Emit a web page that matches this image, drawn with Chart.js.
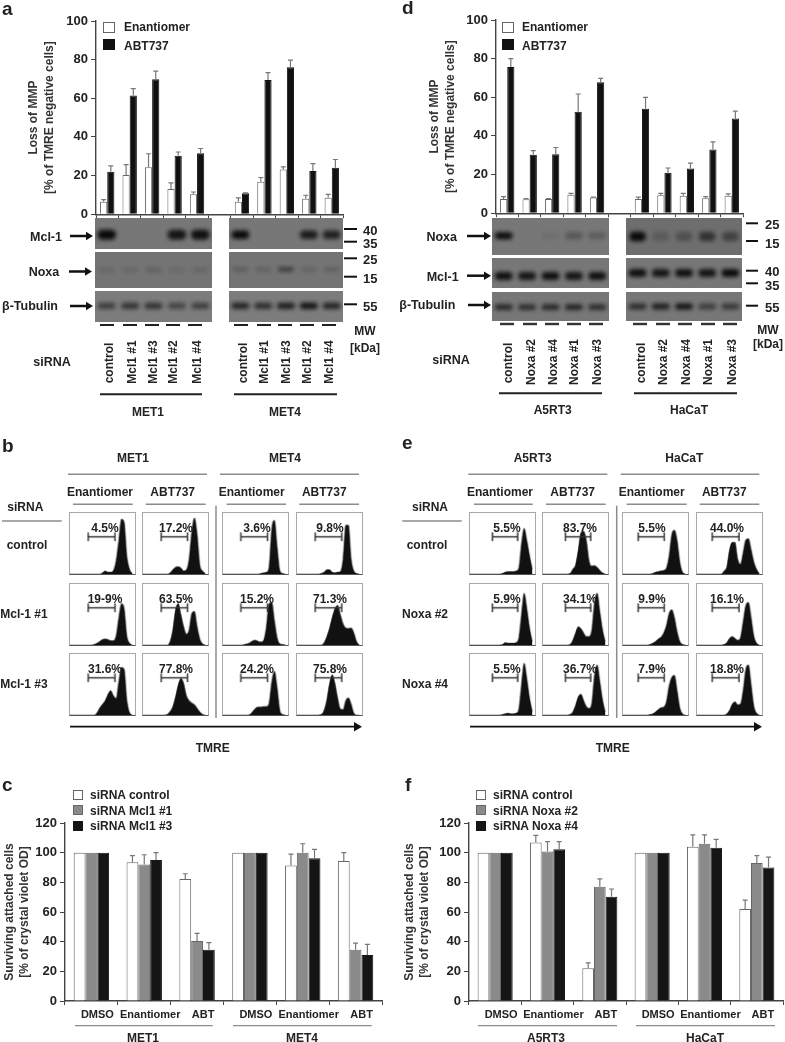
<!DOCTYPE html>
<html>
<head>
<meta charset="utf-8">
<title>Loss of MMP after Mcl-1 and Noxa knockdown</title>
<script src="https://cdn.jsdelivr.net/npm/chart.js@4"></script>
<style>
  html, body { margin: 0; background: #fff; }
  #fig { position: relative; width: 785px; height: 1042px; overflow: hidden; font-family: "Liberation Sans", Arial, sans-serif; color: #222; filter: blur(0.35px); }
  #fig canvas { position: absolute; }
  .t { position: absolute; font-weight: bold; font-size: 12px; white-space: nowrap; transform: translate(-50%, -50%); }
  .tl { position: absolute; font-weight: bold; font-size: 12px; white-space: nowrap; transform: translateY(-50%); }
  .sw { position: absolute; box-sizing: border-box; }
  svg { position: absolute; left: 0; top: 0; }
</style>
</head>
<body>
<div id="fig"></div>
<script>
// panel a - loss of MMP, Mcl1 knockdown
var laneA = ['control', 'Mcl1 #1', 'Mcl1 #3', 'Mcl1 #2', 'Mcl1 #4'];
var mmpLabelsA = laneA.concat(['']).concat(laneA);
var mmpEnantA = [6.5, 20.3, 24.3, 13, 10.3, null, 6.5, 16.8, 23.2, 8, 8.5];
var mmpEnantErrA = [1, 5.4, 7, 3.2, 1.2, null, 2, 2.2, 1.3, 1.8, 1.8];
var mmpAbtA = [22, 61.5, 69.8, 30.2, 31.5, null, 10.8, 69.5, 76, 22.3, 24];
var mmpAbtErrA = [3, 3.5, 4.3, 2, 2.5, null, 0.3, 3.8, 3.7, 3.9, 4.3];

// panel d - loss of MMP, Noxa knockdown
var laneD = ['control', 'Noxa #2', 'Noxa #4', 'Noxa #1', 'Noxa #3'];
var mmpLabelsD = laneD.concat(['']).concat(laneD);
var mmpEnantD = [7.3, 7.2, 7.3, 9.5, 8.1, null, 7.4, 9.3, 9, 7.8, 9];
var mmpEnantErrD = [1.3, 0.3, 0.3, 0.8, 0.2, null, 0.9, 1, 1.3, 0.8, 1];
var mmpAbtD = [75.7, 30.2, 30.5, 52.5, 67.8, null, 54, 21, 23.2, 33, 49];
var mmpAbtErrD = [4.3, 2.2, 3.5, 9.2, 2, null, 6, 2.4, 2.7, 3.9, 3.8];

// panels c and f - crystal violet survival
var survLabels = ['DMSO', 'Enantiomer', 'ABT', 'DMSO', 'Enantiomer', 'ABT'];
var survCtrlC = [100, 93.5, 82.3, 100, 91.3, 94.3];
var survCtrlErrC = [0, 4.5, 3.5, 0, 7.7, 5.7];
var survMcl1C = [100, 92, 40.5, 100, 100, 34.5];
var survMcl1ErrC = [0, 6.6, 5.1, 0, 6, 4.5];
var survMcl3C = [100, 95, 34.5, 100, 96.3, 31];
var survMcl3ErrC = [0, 5, 4.8, 0, 5.9, 7.2];
var survCtrlF = [100, 106.8, 22, 100, 104, 62];
var survCtrlErrF = [0, 4.9, 3.7, 0, 8, 6];
var survNoxa2F = [100, 100.8, 77, 100, 106, 93];
var survNoxa2ErrF = [0, 6.7, 5.3, 0, 6, 5];
var survNoxa4F = [100, 102.3, 70.3, 100, 103.3, 90];
var survNoxa4ErrF = [0, 5.2, 5.2, 0, 5.7, 7];

// panel b histograms, one row per siRNA, 24 bins across TMRE
var histMet1Enant = [
  [0,0,0,0,0,0,0,0,0,0,0,0,2,5,3,3,6,22,55,90,85,30,8,1],
  [0,0,0,0,0,0,0,0,0,1,3,6,9,10,9,7,7,15,45,68,60,15,3,0],
  [0,0,0,0,0,0,0,0,0,0,4,12,18,24,34,40,32,27,55,78,75,25,4,0]
];
var histMet1Abt = [
  [0,0,0,0,0,0,0,0,0,0,2,7,11,12,10,5,7,25,70,92,65,15,5,1],
  [0,0,0,0,0,0,0,0,0,0,6,25,58,68,50,30,18,25,52,55,30,10,2,0],
  [0,0,0,0,0,0,0,0,0,1,6,14,30,50,60,52,32,24,20,17,11,5,1,0]
];
var histMet4Enant = [
  [0,0,0,0,0,0,0,0,0,0,0,0,0,0,1,2,3,12,75,88,45,6,1,0],
  [0,0,0,0,0,0,0,0,1,2,4,7,8,6,5,8,30,68,70,40,12,2,1,0],
  [0,0,0,0,0,0,0,0,0,0,1,6,11,13,13,14,14,20,55,72,45,8,1,0]
];
var histMet4Abt = [
  [0,0,0,0,0,0,0,0,0,1,3,7,7,3,2,3,4,25,80,80,25,5,1,0],
  [0,0,0,0,0,0,0,0,0,0,4,14,28,46,60,65,50,35,28,27,28,20,6,0],
  [0,0,0,0,0,0,0,0,0,1,8,25,52,66,52,28,10,9,24,28,18,3,0,0]
];
// panel e histograms
var histA5Enant = [
  [0,0,0,0,0,0,0,0,0,0,0,0,1,3,4,4,4,5,10,50,75,55,30,8],
  [0,0,0,0,0,0,0,0,0,0,0,0,1,4,3,3,3,4,12,50,85,60,28,6],
  [0,0,0,0,0,0,0,0,0,0,0,0,1,2,3,2,2,3,10,50,85,60,28,6]
];
var histA5Abt = [
  [0,0,0,0,0,0,0,0,0,0,1,8,15,40,68,70,55,22,13,14,11,6,2,0],
  [0,0,0,0,0,0,0,0,0,0,1,8,20,30,27,20,14,14,25,70,85,55,25,6],
  [0,0,0,0,0,0,0,0,0,0,1,5,16,30,34,24,14,11,20,65,82,55,25,5]
];
var histHaCaTEnant = [
  [0,0,0,0,0,0,0,0,0,0,0,1,3,4,5,6,10,30,65,72,55,20,3,0],
  [0,0,0,0,0,0,0,0,0,0,1,3,6,10,13,20,32,52,58,45,22,6,1,0],
  [0,0,0,0,0,0,0,0,0,0,1,2,5,9,12,13,22,48,62,65,40,12,2,0]
];
var histHaCaTAbt = [
  [0,0,0,0,0,0,0,0,0,0,5,12,40,52,52,25,16,35,56,58,40,20,8,1],
  [0,0,0,0,0,0,0,0,0,0,1,4,11,14,11,8,12,38,65,70,45,15,3,0],
  [0,0,0,0,0,0,0,0,0,0,0,2,8,18,22,17,18,40,75,82,50,15,3,0]
];
var pctB = [
  ['4.5%', '17.2%', '3.6%', '9.8%'],
  ['19-9%', '63.5%', '15.2%', '71.3%'],
  ['31.6%', '77.8%', '24.2%', '75.8%']
];
var pctE = [
  ['5.5%', '83.7%', '5.5%', '44.0%'],
  ['5.9%', '34.1%', '9.9%', '16.1%'],
  ['5.5%', '36.7%', '7.9%', '18.8%']
];

// western blot band strengths per lane (0 - 1)
var mclBandMet1 = [1, 0, 0, 0.9, 0.95];
var mclBandMet4 = [1, 0, 0, 0.85, 0.8];
var noxaBandMet1 = [0.14, 0.14, 0.2, 0.12, 0.16];
var noxaBandMet4 = [0.25, 0.2, 0.6, 0.18, 0.22];
var tubBandMet1 = [0.55, 0.65, 0.65, 0.5, 0.55];
var tubBandMet4 = [0.8, 0.7, 0.85, 0.95, 0.8];
var noxaBandA5 = [1, 0.01, 0.08, 0.3, 0.25];
var noxaBandHaCaT = [1, 0.2, 0.3, 0.6, 0.45];
var mclBandA5 = [0.95, 0.9, 0.95, 0.9, 0.95];
var mclBandHaCaT = [0.95, 0.9, 0.95, 0.9, 1];
var tubBandA5 = [0.75, 0.7, 0.75, 0.8, 0.7];
var tubBandHaCaT = [0.7, 0.85, 0.95, 0.55, 0.6];

var FONT = '"Liberation Sans", Arial, sans-serif';
var fig = document.getElementById('fig');
var GREY = '#777';
Chart.defaults.animation = false;
Chart.defaults.responsive = false;
Chart.defaults.font.family = FONT;
Chart.defaults.plugins.legend.display = false;
Chart.defaults.plugins.tooltip.enabled = false;

function makeCanvas(x, y, w, h) {
  var c = document.createElement('canvas');
  c.width = w;
  c.height = h;
  c.style.left = x + 'px';
  c.style.top = y + 'px';
  fig.appendChild(c);
  return c;
}

function text(str, x, y, size, rot) {
  var d = document.createElement('div');
  d.className = 't';
  d.textContent = str;
  d.style.left = x + 'px';
  d.style.top = y + 'px';
  if (size) d.style.fontSize = size + 'px';
  if (rot) d.style.transform = 'translate(-50%, -50%) rotate(-90deg)';
  fig.appendChild(d);
}

function leftText(str, x, y, size) {
  var d = document.createElement('div');
  d.className = 'tl';
  d.textContent = str;
  d.style.left = x + 'px';
  d.style.top = y + 'px';
  if (size) d.style.fontSize = size + 'px';
  fig.appendChild(d);
}

function swatch(x, y, w, h, bg, border) {
  var d = document.createElement('div');
  d.className = 'sw';
  d.style.cssText = 'left:' + x + 'px;top:' + y + 'px;width:' + w + 'px;height:' + h + 'px;background:' + bg + ';border:1px solid ' + border;
  fig.appendChild(d);
}

// error bars, only the upper half like the original
var errorBars = {
  id: 'errorBars',
  afterDatasetsDraw: function (chart) {
    var ctx = chart.ctx, y = chart.scales.y;
    chart.data.datasets.forEach(function (ds, i) {
      if (!ds.err) return;
      chart.getDatasetMeta(i).data.forEach(function (bar, k) {
        if (ds.data[k] == null || !ds.err[k]) return;
        var top = y.getPixelForValue(ds.data[k] + ds.err[k]);
        var base = y.getPixelForValue(ds.data[k]);
        ctx.save();
        ctx.strokeStyle = GREY;
        ctx.lineWidth = 1.2;
        ctx.beginPath();
        ctx.moveTo(bar.x, base);
        ctx.lineTo(bar.x, top);
        ctx.moveTo(bar.x - 2.5, top);
        ctx.lineTo(bar.x + 2.5, top);
        ctx.stroke();
        ctx.restore();
      });
    });
  }
};

function barPanel(o) {
  new Chart(makeCanvas(o.x, o.y, o.w, o.h), {
    type: 'bar',
    data: {
      labels: o.labels,
      datasets: o.sets.map(function (s) {
        return {
          data: s.data, err: s.err, backgroundColor: s.bg, borderColor: s.border, borderWidth: 1,
          categoryPercentage: o.cat, barPercentage: 1
        };
      })
    },
    options: {
      layout: { padding: { top: 12, left: o.padLeft, right: 2, bottom: 0 } },
      scales: {
        x: {
          grid: { drawOnChartArea: false, tickLength: 4, color: '#444' },
          border: { color: '#444', width: 1.4 },
          ticks: {
            display: o.showX, autoSkip: false, maxRotation: 0, padding: 3, labelOffset: 6,
            color: '#222', font: { size: 11, weight: 'bold' }
          },
          afterFit: function (s) { s.height = o.xHeight; }
        },
        y: {
          min: 0, max: o.max,
          title: { display: true, text: o.title, color: '#333', padding: 0, font: { size: 12, weight: 'bold', lineHeight: o.titleLine } },
          grid: { drawOnChartArea: false, tickLength: 5, color: '#444' },
          border: { color: '#444', width: 1.4 },
          ticks: { stepSize: 20, color: '#222', padding: 3, font: { size: 13, weight: 'bold' } },
          afterFit: function (s) { s.width = o.yWidth; }
        }
      }
    },
    plugins: [errorBars]
  });
}

// histogram with the gate on top
function histogram(x, y, w, h, bins, gate) {
  var c = makeCanvas(x, y, w, h);
  c.style.border = '1.5px solid #a8a8a8';
  c.style.borderBottom = '1.5px solid #555';
  new Chart(c, {
    type: 'line',
    data: {
      datasets: [
        {
          data: [{ x: gate[0], y: 61 }, { x: gate[1], y: 61 }],
          borderColor: '#333', borderWidth: 1.5, fill: false, order: 0,
          pointStyle: 'line', rotation: 90, pointRadius: 4.5, pointBorderColor: '#333', pointBorderWidth: 1.5
        },
        {
          data: bins.map(function (v, i) { return { x: i, y: v }; }),
          borderColor: '#111', borderWidth: 0.5, backgroundColor: '#111', fill: 'origin', pointRadius: 0,
          cubicInterpolationMode: 'monotone', order: 1
        }
      ]
    },
    options: {
      layout: { autoPadding: false, padding: 0 },
      scales: {
        x: { type: 'linear', display: false, min: 0, max: 24 },
        y: { display: false, min: 0, max: 100 }
      }
    }
  });
}

// soft edges for the blot bands
var blurBands = {
  id: 'blurBands',
  beforeDatasetsDraw: function (chart) { chart.ctx.save(); chart.ctx.filter = 'blur(1.9px)'; },
  afterDatasetsDraw: function (chart) { chart.ctx.restore(); }
};

function blot(x, y, w, h, bands, pos, thick, barW, bg) {
  var c = makeCanvas(x, y, w, h);
  c.style.background = bg || '#777';
  new Chart(c, {
    type: 'bar',
    data: {
      labels: laneA,
      datasets: [{
        data: bands.map(function () { return [pos - thick / 2, pos + thick / 2]; }),
        backgroundColor: bands.map(function (b) { return 'rgba(10,10,10,' + b + ')'; }),
        borderRadius: 99, borderSkipped: false, barThickness: barW
      }]
    },
    options: {
      layout: { autoPadding: false, padding: 0 },
      scales: {
        x: { display: false },
        y: { display: false, min: 0, max: 100, reverse: true }
      }
    },
    plugins: [blurBands]
  });
}

// bar charts
barPanel({
  x: 0, y: 9, w: 345, h: 216, labels: mmpLabelsA, cat: 0.64, max: 100, padLeft: 26, yWidth: 70, xHeight: 8,
  showX: false, titleLine: 1.33, title: ['Loss of MMP', '[% of TMRE negative cells]'],
  sets: [
    { data: mmpEnantA, err: mmpEnantErrA, bg: '#fff', border: '#666' },
    { data: mmpAbtA, err: mmpAbtErrA, bg: '#111', border: '#111' }
  ]
});
barPanel({
  x: 395, y: 8, w: 350, h: 216, labels: mmpLabelsD, cat: 0.64, max: 100, padLeft: 32, yWidth: 69, xHeight: 8,
  showX: false, titleLine: 1.33, title: ['Loss of MMP', '[% of TMRE negative cells]'],
  sets: [
    { data: mmpEnantD, err: mmpEnantErrD, bg: '#fff', border: '#666' },
    { data: mmpAbtD, err: mmpAbtErrD, bg: '#111', border: '#111' }
  ]
});
barPanel({
  x: 0, y: 811, w: 384, h: 214, labels: survLabels, cat: 0.67, max: 120, padLeft: 2, yWidth: 63, xHeight: 24,
  showX: true, titleLine: 1.25, title: ['Surviving attached cells', '[% of crystal violet OD]'],
  sets: [
    { data: survCtrlC, err: survCtrlErrC, bg: '#fff', border: '#666' },
    { data: survMcl1C, err: survMcl1ErrC, bg: '#8a8a8a', border: '#666' },
    { data: survMcl3C, err: survMcl3ErrC, bg: '#151515', border: '#151515' }
  ]
});
barPanel({
  x: 395, y: 811, w: 390, h: 214, labels: survLabels, cat: 0.67, max: 120, padLeft: 7, yWidth: 67, xHeight: 24,
  showX: true, titleLine: 1.25, title: ['Surviving attached cells', '[% of crystal violet OD]'],
  sets: [
    { data: survCtrlF, err: survCtrlErrF, bg: '#fff', border: '#666' },
    { data: survNoxa2F, err: survNoxa2ErrF, bg: '#8a8a8a', border: '#666' },
    { data: survNoxa4F, err: survNoxa4ErrF, bg: '#151515', border: '#151515' }
  ]
});

// blots panel a
blot(95, 218, 117, 31, mclBandMet1, 54, 30, 18);
blot(229, 218, 114, 31, mclBandMet4, 54, 26, 17);
blot(95, 252, 117, 36, noxaBandMet1, 50, 10, 15, '#747474');
blot(229, 252, 114, 36, noxaBandMet4, 48, 10, 15, '#747474');
blot(95, 291, 117, 31, tubBandMet1, 48, 18, 17, '#7c7c7c');
blot(229, 291, 114, 31, tubBandMet4, 48, 18, 17, '#7c7c7c');
// blots panel d
blot(492, 218, 117, 37, noxaBandA5, 48, 17, 17);
blot(626, 218, 116, 37, noxaBandHaCaT, 50, 24, 16, '#6e6e6e');
blot(492, 258, 117, 30, mclBandA5, 60, 24, 17);
blot(626, 258, 116, 30, mclBandHaCaT, 50, 24, 17);
blot(492, 292, 117, 29, tubBandA5, 52, 18, 17);
blot(626, 292, 116, 29, tubBandHaCaT, 50, 18, 17);

// histogram grids
var rowTops = [512, 583, 653];
var colsB = [69, 142, 222, 296];
var colsE = [469, 542, 622, 696];
var gatesB = [[6.7, 16.6], [6.7, 16.4], [6.6, 16.4], [6.7, 16.5]];
var gatesE = [[8.3, 17.6], [8.3, 17.6], [5.6, 15.2], [5.6, 15.5]];
var pctOffB = [36, 34, 35, 34];
var pctOffE = [38, 38, 30, 31];

function histGrid(cols, gates, offs, pcts, sets) {
  sets.forEach(function (rows, c) {
    rows.forEach(function (bins, r) {
      histogram(cols[c], rowTops[r], 67, 63, bins, gates[c]);
      text(pcts[r][c], cols[c] + offs[c], rowTops[r] + 16);
    });
  });
}
histGrid(colsB, gatesB, pctOffB, pctB, [histMet1Enant, histMet1Abt, histMet4Enant, histMet4Abt]);
histGrid(colsE, gatesE, pctOffE, pctE, [histA5Enant, histA5Abt, histHaCaTEnant, histHaCaTAbt]);

// thin rules and arrows
var svg = '';
function seg(x1, y1, x2, y2, w, col) {
  svg += '<line x1="' + x1 + '" y1="' + y1 + '" x2="' + x2 + '" y2="' + y2 + '" stroke="' + col + '" stroke-width="' + w + '"/>';
}
function arrow(x1, x2, y, w, head) {
  seg(x1, y, x2 - head, y, w, '#111');
  svg += '<polygon fill="#111" points="' + (x2 - head) + ',' + (y - head * 0.6) + ' ' + x2 + ',' + y + ' ' + (x2 - head) + ',' + (y + head * 0.6) + '"/>';
}
function ctlHalf(s) { return s === 'control' ? 20 : 21; }

// panel letters
leftText('a', 2, 9, 19);
leftText('b', 2, 446, 19);
leftText('c', 2, 785, 19);
leftText('d', 402, 8, 19);
leftText('e', 402, 443, 19);
leftText('f', 405, 785, 19);

// legends a, d
swatch(103, 22, 12, 11, '#fff', '#666');
swatch(103, 39, 12, 11, '#111', '#111');
leftText('Enantiomer', 124, 27);
leftText('ABT737', 124, 45.5);
swatch(502, 22, 12, 11, '#fff', '#666');
swatch(502, 39, 12, 11, '#111', '#111');
leftText('Enantiomer', 522, 27);
leftText('ABT737', 522, 45.5);

// legends c, f
swatch(73, 790, 10, 10, '#fff', '#666');
swatch(73, 805, 10, 10, '#8a8a8a', '#666');
swatch(73, 820.5, 10, 10, '#151515', '#151515');
leftText('siRNA control', 90, 795);
leftText('siRNA Mcl1 #1', 90, 810.5);
leftText('siRNA Mcl1 #3', 90, 826);
swatch(476, 790, 10, 10, '#fff', '#666');
swatch(476, 805, 10, 10, '#8a8a8a', '#666');
swatch(476, 820.5, 10, 10, '#151515', '#151515');
leftText('siRNA control', 493, 795);
leftText('siRNA Noxa #2', 493, 810.5);
leftText('siRNA Noxa #4', 493, 826);

// blot labels a
text('Mcl-1', 46, 237, 12.5); arrow(70, 93, 236, 2.5, 7);
text('Noxa', 44, 272, 12.5); arrow(69, 92, 271.5, 2.5, 7);
text('β-Tubulin', 30, 306, 12.5); arrow(70, 93, 306, 2.5, 7);
[[229, 40, 230], [241.7, 35, 243], [258.3, 25, 258.5], [276.7, 15, 278], [304.3, 55, 306]].forEach(function (m) {
  seg(344, m[0], 357, m[0], 2, '#111');
  leftText(String(m[1]), 363, m[2], 13);
});
text('MW', 365, 331); text('[kDa]', 365, 348);
text('siRNA', 52, 362, 12.5);
[100, 123, 145, 166, 188, 234, 257, 278, 300, 322].forEach(function (x) { seg(x, 325, x + 14, 325, 2, '#222'); });
[109.3, 131.7, 152.7, 173.3, 196.7].forEach(function (x, i) { text(laneA[i], x, 383 - ctlHalf(laneA[i]), 12, true); });
[242.7, 264.3, 286, 306.7, 329.3].forEach(function (x, i) { text(laneA[i], x, 383 - ctlHalf(laneA[i]), 12, true); });
seg(100, 394.3, 202, 394.3, 2, '#222'); seg(234, 394.3, 337, 394.3, 2, '#222');
text('MET1', 148, 411.5); text('MET4', 285, 411.5);

// blot labels d
text('Noxa', 441.7, 237, 12.5); arrow(467, 491, 236, 2.5, 7);
text('Mcl-1', 442.7, 276.5, 12.5); arrow(467, 491, 275.7, 2.5, 7);
text('β-Tubulin', 427.3, 305, 12.5); arrow(468, 491, 305, 2.5, 7);
[[223.3, 25, 224], [241, 15, 243], [270.7, 40, 271], [283.3, 35, 285], [305.7, 55, 307]].forEach(function (m) {
  seg(746, m[0], 758, m[0], 2, '#111');
  leftText(String(m[1]), 765, m[2], 13);
});
text('MW', 768, 330); text('[kDa]', 768, 344);
text('siRNA', 451, 360, 12.5);
[500, 523, 545, 567, 589, 633, 656, 678, 701, 723].forEach(function (x) { seg(x, 324, x + 14, 324, 2.4, '#333'); });
[508.3, 530.7, 553.3, 574.3, 597.3].forEach(function (x, i) { text(laneD[i], x, 383 - ctlHalf(laneD[i]), 12, true); });
[641, 663.3, 686, 707.7, 731.7].forEach(function (x, i) { text(laneD[i], x, 383 - ctlHalf(laneD[i]), 12, true); });
seg(499, 393.3, 602, 393.3, 2, '#222'); seg(634, 393.3, 737, 393.3, 2, '#222');
text('A5RT3', 552.7, 410); text('HaCaT', 689, 410);

// flow cytometry headers
var RULE = '#8c8c8c';
function flowHead(names, lines, midX, cellA, cellB, siLine, siX, rowNames, rowX) {
  text(names[0], cellA[0], 458); text(names[1], cellA[1], 458);
  seg(lines[0][0], 474.3, lines[0][1], 474.3, 1.5, RULE);
  seg(lines[1][0], 474.3, lines[1][1], 474.3, 1.5, RULE);
  cellB.forEach(function (c) { text(c[0], c[1], 492); seg(c[2], 504.3, c[3], 504.3, 1.5, RULE); });
  text('siRNA', siX, 507);
  seg(siLine[0], 521, siLine[1], 521, 1.5, RULE);
  text(rowNames[0], rowX[0], 545); text(rowNames[1], rowX[1], 613.5); text(rowNames[2], rowX[1], 683.5);
  seg(midX, 505.7, midX, 718, 1.5, RULE);
}
flowHead(['MET1', 'MET4'], [[68, 207], [220, 359]], 216, [133, 285],
  [['Enantiomer', 100, 73, 132.7], ['ABT737', 172.7, 145.7, 205.7], ['Enantiomer', 251.7, 226.7, 286], ['ABT737', 324.3, 299.3, 359]],
  [2, 61.7], 25.3, ['control', 'Mcl-1 #1', 'Mcl-1 #3'], [27, 24]);
flowHead(['A5RT3', 'HaCaT'], [[468.3, 607.3], [620.7, 759.3]], 616.7, [532.7, 684.3],
  [['Enantiomer', 500, 474, 532.7], ['ABT737', 572.7, 546, 605.7], ['Enantiomer', 651.7, 626.7, 686.7], ['ABT737', 724.3, 699.7, 759.3]],
  [402.3, 461.7], 430, ['control', 'Noxa #2', 'Noxa #4'], [427, 425]);
arrow(70, 362, 726.7, 1.8, 8);
arrow(470, 762, 726.7, 1.8, 8);
text('TMRE', 212.7, 747.5); text('TMRE', 612.7, 747.5);

// group rules under c, f
seg(75, 1025.7, 212.7, 1025.7, 1.2, RULE); seg(233, 1025.7, 371.7, 1025.7, 1.2, RULE);
seg(478, 1025.7, 617, 1025.7, 1.2, RULE); seg(636, 1025.7, 775, 1025.7, 1.2, RULE);
text('MET1', 143, 1037.5); text('MET4', 302, 1037.5);
text('A5RT3', 546, 1037.5); text('HaCaT', 705, 1037.5);

var layer = document.createElement('div');
layer.innerHTML = '<svg width="785" height="1042">' + svg + '</svg>';
fig.appendChild(layer);
</script>
</body>
</html>
